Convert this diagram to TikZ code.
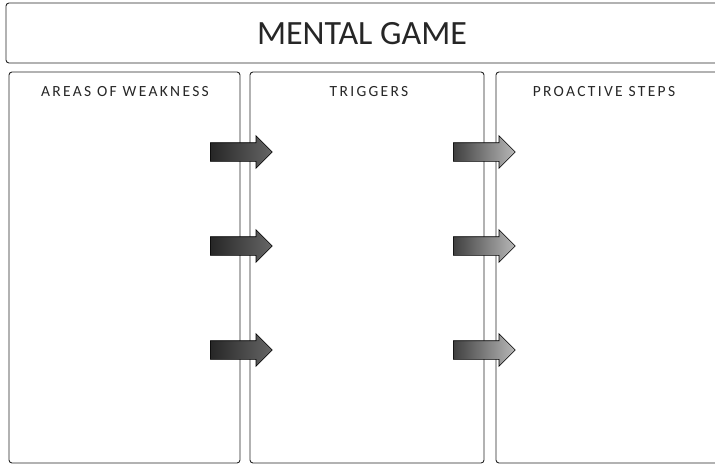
\documentclass[tikz,border=0pt]{standalone}
\usepackage{fontspec}
\setmainfont{Carlito}
\usetikzlibrary{shapes.arrows}
\tikzset{
  panel/.style={draw=black!85, line width=0.9pt, rounded corners=3pt},
  heading/.style={font=\fontsize{15.5}{17}\selectfont\addfontfeature{LetterSpace=15}, anchor=north, text=black!85},
  bigarrow/.style={single arrow, draw=black, line width=0.6pt, inner xsep=0pt, inner ysep=9pt,
    single arrow head extend=7pt, single arrow tip angle=90, minimum height=62pt, anchor=west},
  darkarrow/.style={bigarrow, left color=black!85, right color=black!60},
  lightarrow/.style={bigarrow, left color=black!75, right color=black!28},
}
\begin{document}
\begin{tikzpicture}[x=1pt, y=-1pt]
  \path[use as bounding box] (0,0) rectangle (715,466);
  \clip (0,0) rectangle (715,466);

  % title bar
  \draw[panel] (6,3) rectangle (725,63);
  \node[font=\fontsize{34}{37}\selectfont, text=black!85] (title) at (362,34) {MENTAL GAME};

  % three columns
  \draw[panel] (9,72) rectangle (240,463);
  \draw[panel] (250,72) rectangle (484,463);
  \draw[panel] (496,72) rectangle (725,463);

  \node[heading] (weak) at (125,83) {AREAS OF WEAKNESS};
  \node[heading] (trig) at (369,83) {TRIGGERS};
  \node[heading] (steps) at (604,83) {PROACTIVE STEPS};

  % arrows from weaknesses to triggers
  \node[darkarrow] (a1) at (210,152) {};
  \node[darkarrow] (a2) at (210,246) {};
  \node[darkarrow] (a3) at (210,350) {};

  % arrows from triggers to proactive steps
  \node[lightarrow] (b1) at (453,152) {};
  \node[lightarrow] (b2) at (453,246) {};
  \node[lightarrow] (b3) at (453,350) {};
\end{tikzpicture}
\end{document}
